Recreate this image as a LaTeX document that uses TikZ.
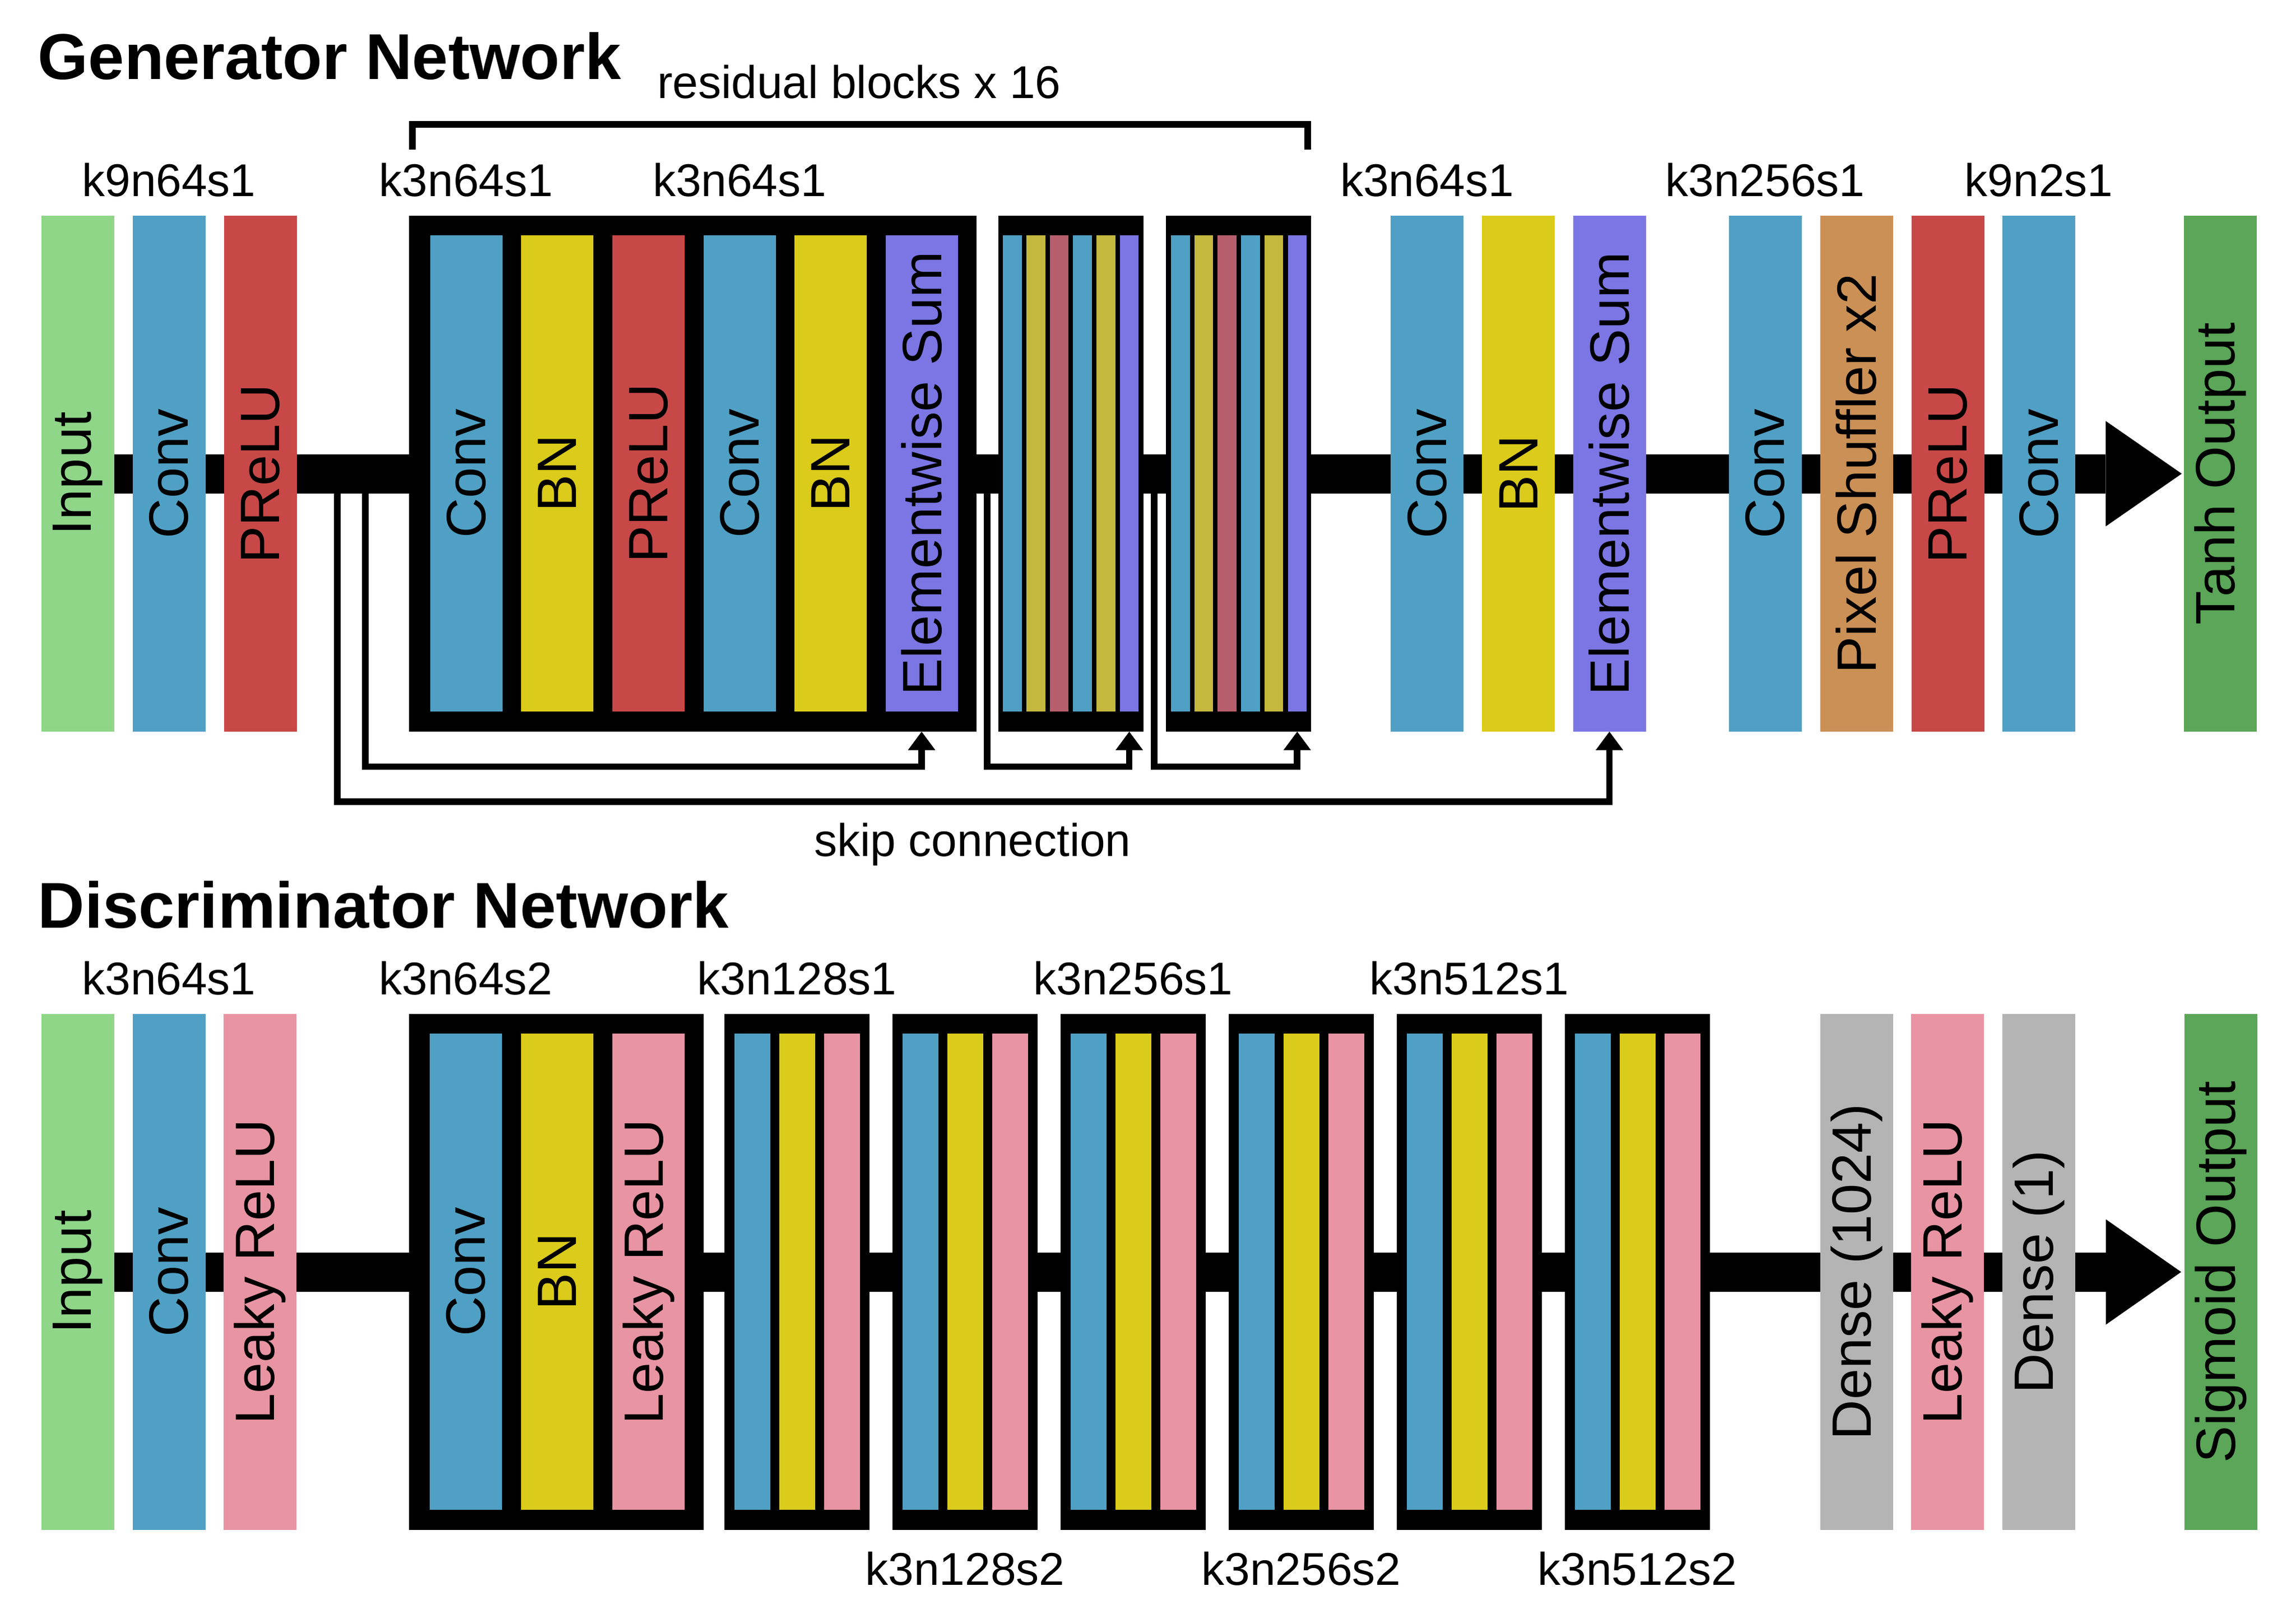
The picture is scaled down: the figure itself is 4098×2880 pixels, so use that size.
\documentclass[tikz,border=0pt]{standalone}
\usepackage{fontspec}
\setmainfont{Liberation Sans}
\usetikzlibrary{arrows.meta,backgrounds,calc}
\definecolor{cin}{HTML}{8FD689}
\definecolor{cconv}{HTML}{50A0C5}
\definecolor{cprelu}{HTML}{C84848}
\definecolor{cbn}{HTML}{DBCB1A}
\definecolor{ces}{HTML}{7B76E4}
\definecolor{cps}{HTML}{CB9055}
\definecolor{cout}{HTML}{5BA658}
\definecolor{clrelu}{HTML}{E894A3}
\definecolor{cdense}{HTML}{B4B4B4}
\definecolor{mbn}{HTML}{C4B83E}
\definecolor{mprelu}{HTML}{B75E6D}
\newcommand\mkbox[6]{\node[#1,fill=#3] (#2) at (#4,#5) {};\node[vl] (#2t) at (#2.center) {#6};}
\begin{document}
\begin{tikzpicture}[x=0.25pt,y=-0.25pt,
  blk/.style={rectangle,inner sep=0pt,outer sep=0pt,draw=none,anchor=north west,minimum width=32.5pt,minimum height=230.25pt},
  frm/.style={blk,fill=black},
  inbox/.style={blk,minimum width=32.25pt,minimum height=212.5pt},
  gbar/.style={blk,minimum width=8.375pt,minimum height=212.5pt},
  dbar/.style={blk,minimum width=16pt,minimum height=212.5pt},
  vl/.style={rotate=90,inner sep=0pt,font=\fontsize{24.75pt}{28pt}\selectfont},
  kl/.style={anchor=base,inner sep=0pt,font=\fontsize{20.5pt}{24pt}\selectfont},
  ttl/.style={anchor=base west,inner sep=0pt,font=\fontsize{28.9pt}{34pt}\selectfont\bfseries},
  shaft/.style={line width=17.5pt},
  skipline/.style={line width=2.9pt,-{Triangle[length=8.25pt,width=12.25pt,line width=0pt]}},
]
\useasboundingbox (0,0) rectangle (4098,2880);

% ---------- Titles ----------
\node[ttl] (gtitle) at (67,141) {Generator Network};
\node[ttl] (dtitle) at (67,1656.5) {Discriminator Network};

% ---------- Generator ----------
\mkbox{blk}{gin}{cin}{73.5}{385}{Input}
\mkbox{blk}{gconv}{cconv}{236.5}{385}{Conv}
\mkbox{blk}{gpr}{cprelu}{399.5}{385}{PReLU}

\node[frm,minimum width=253.25pt] (gf1) at (730,385) {};
\mkbox{inbox}{gia}{cconv}{767.5}{420}{Conv}
\mkbox{inbox}{gib}{cbn}{930}{420}{BN}
\mkbox{inbox}{gic}{cprelu}{1093}{420}{PReLU}
\mkbox{inbox}{gid}{cconv}{1255.5}{420}{Conv}
\mkbox{inbox}{gie}{cbn}{1418}{420}{BN}
\mkbox{inbox}{gif}{ces}{1580.5}{420}{Elementwise Sum}

\node[frm,minimum width=64.75pt] (gf2) at (1781.5,385) {};
\node[frm,minimum width=64.75pt] (gf3) at (2081,385) {};
\foreach \c [count=\i] in {cconv,mbn,mprelu,cconv,mbn,ces} {
  \node[gbar,fill=\c] (gab\i) at ({1790.3+(\i-1)*41.7},420) {};
  \node[gbar,fill=\c] (gbb\i) at ({2090+(\i-1)*41.7},420) {};
}

\mkbox{blk}{gc2}{cconv}{2482}{385}{Conv}
\mkbox{blk}{gbn2}{cbn}{2645}{385}{BN}
\mkbox{blk}{ges2}{ces}{2807.5}{385}{Elementwise Sum}
\mkbox{blk}{gc3}{cconv}{3085.5}{385}{Conv}
\mkbox{blk}{gps}{cps}{3248.5}{385}{Pixel Shuffler x2}
\mkbox{blk}{gpr2}{cprelu}{3411.5}{385}{PReLU}
\mkbox{blk}{gc4}{cconv}{3574}{385}{Conv}
\mkbox{blk}{gout}{cout}{3898}{385}{Tanh Output}

% generator labels
\coordinate (gk) at (0,350);
\node[kl] (gl1) at (gconv.north |- gk) {k9n64s1};
\node[kl] (gl2) at (gia.north |- gk) {k3n64s1};
\node[kl] (gl3) at (gid.north |- gk) {k3n64s1};
\node[kl] (gl4) at (gc2.north |- gk) {k3n64s1};
\node[kl] (gl5) at (gc3.north |- gk) {k3n256s1};
\node[kl] (gl6) at (gc4.north |- gk) {k9n2s1};
\node[kl] (grb) at (1533.5,175) {residual blocks x 16};
\node[kl] (gsk) at (1736,1528) {skip connection};

% bracket
\draw[line width=2.9pt] (735.8,267) -- (735.8,221.8) -- (2334.2,221.8) -- (2334.2,267);

% main generator arrow
\coordinate (gtip) at ([xshift=-1pt]gout.west);
\coordinate (gbase) at ([xshift=-33.9pt]gtip);
\fill (gtip) -- ([yshift=23.5pt]gbase) -- ([yshift=-23.5pt]gbase) -- cycle;

% skip connections
\coordinate (sk0) at (602,845.5);
\coordinate (sk1) at (652,845.5);
\coordinate (sk2) at (1762,845.5);
\coordinate (sk3) at (2060,845.5);
\draw[skipline] (sk0) |- ([yshift=-31.25pt]ges2.south) -- (ges2.south);
\draw[skipline] (sk1) |- ([yshift=-15.6pt]gif.center |- gf1.south) -- (gif.center |- gf1.south);
\draw[skipline] (sk2) |- ([yshift=-15.6pt]gab6.center |- gf2.south) -- (gab6.center |- gf2.south);
\draw[skipline] (sk3) |- ([yshift=-15.6pt]gbb6.center |- gf3.south) -- (gbb6.center |- gf3.south);

% ---------- Discriminator ----------
\mkbox{blk}{din}{cin}{74}{1810}{Input}
\mkbox{blk}{dconv}{cconv}{236.5}{1810}{Conv}
\mkbox{blk}{dlr}{clrelu}{399}{1810}{Leaky ReLU}

\node[frm,minimum width=131.5pt] (df1) at (730,1810) {};
\mkbox{inbox}{dia}{cconv}{767}{1845}{Conv}
\mkbox{inbox}{dib}{cbn}{930}{1845}{BN}
\mkbox{inbox}{dic}{clrelu}{1093}{1845}{Leaky ReLU}

\foreach \k in {2,...,7} {
  \node[frm,minimum width=64.75pt] (df\k) at ({1293+(\k-2)*300},1810) {};
  \foreach \c [count=\j] in {cconv,cbn,clrelu}
    \node[dbar,fill=\c] (db\k\j) at ({1311+(\k-2)*300+(\j-1)*80},1845) {};
}

\mkbox{blk}{dd1}{cdense}{3248.5}{1810}{Dense (1024)}
\mkbox{blk}{dlr2}{clrelu}{3411}{1810}{Leaky ReLU}
\mkbox{blk}{dd2}{cdense}{3574}{1810}{Dense (1)}
\mkbox{blk}{dout}{cout}{3899}{1810}{Sigmoid Output}

% discriminator labels
\coordinate (dk) at (0,1775);
\coordinate (dkb) at (0,2829);
\node[kl] (dl1) at (dconv.north |- dk) {k3n64s1};
\node[kl] (dl2) at (dia.north |- dk) {k3n64s2};
\node[kl] (dl3) at (df2.north |- dk) {k3n128s1};
\node[kl] (dl4) at (df4.north |- dk) {k3n256s1};
\node[kl] (dl5) at (df6.north |- dk) {k3n512s1};
\node[kl] (dl6) at (df3.south |- dkb) {k3n128s2};
\node[kl] (dl7) at (df5.south |- dkb) {k3n256s2};
\node[kl] (dl8) at (df7.south |- dkb) {k3n512s2};

% main discriminator arrow
\coordinate (dtip) at ([xshift=-1.5pt]dout.west);
\coordinate (dbase) at ([xshift=-33.6pt]dtip);
\fill (dtip) -- ([yshift=23.5pt]dbase) -- ([yshift=-23.5pt]dbase) -- cycle;

% background layer: white page and main shafts
\begin{pgfonlayer}{background}
  \fill[white] (0,0) rectangle (4098,2880);
  \draw[shaft] (gin.center) -- (gbase);
  \draw[shaft] (din.center) -- (dbase);
\end{pgfonlayer}
\end{tikzpicture}
\end{document}
